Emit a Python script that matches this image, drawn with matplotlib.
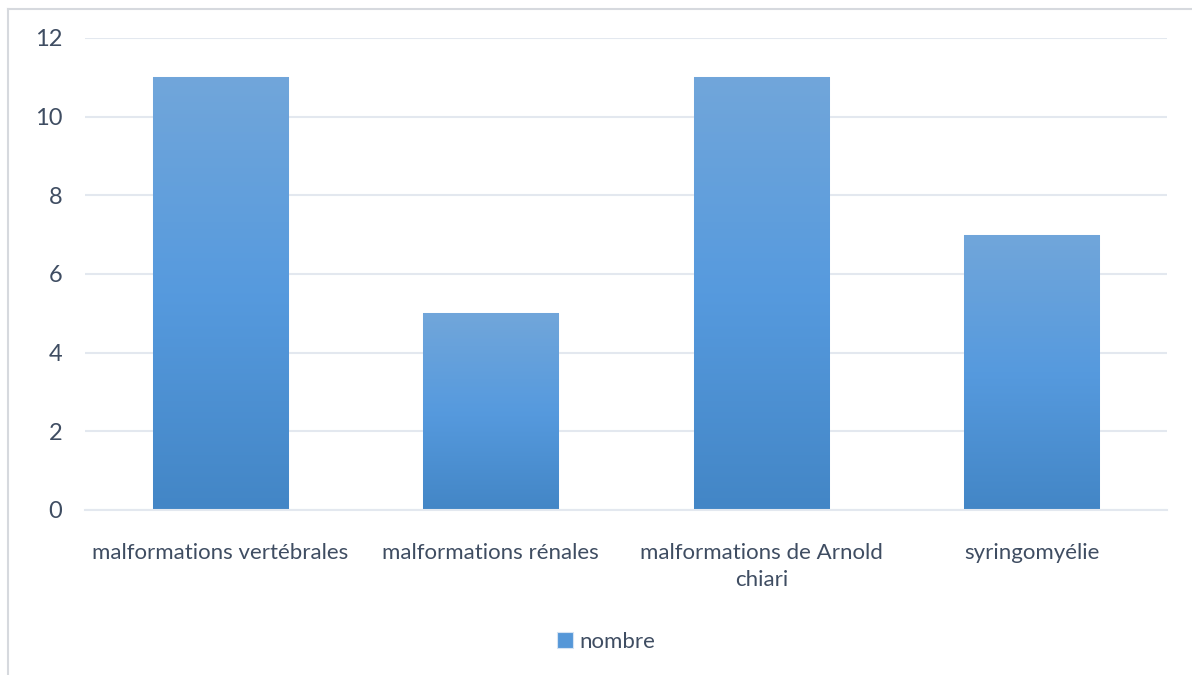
import numpy as np
import matplotlib.pyplot as plt
from matplotlib.colors import LinearSegmentedColormap
from matplotlib.lines import Line2D

categories = ["malformations vertébrales", "malformations rénales",
              "malformations de Arnold\nchiari", "syringomyélie"]
nombre = [11, 5, 11, 7]
yticks = [0, 2, 4, 6, 8, 10, 12]

plt.rcParams['font.family'] = ['Lato', 'DejaVu Sans']
txt = '#3f4d62'

fig = plt.figure(figsize=(11.92, 6.75), dpi=100)
ax = fig.add_axes([85/1192, 1 - 510/675, (1167-85)/1192, (510-38)/675])

x = np.arange(len(categories))
bars = ax.bar(x, nombre, width=0.5, color='#5b9bd5', edgecolor='#d5e3f3', linewidth=0.8, zorder=2)

# vertical gradient in each bar
cmap = LinearSegmentedColormap.from_list('g', ['#4386c6', '#569ade', '#71a6da'])
grad = np.linspace(0, 1, 256).reshape(-1, 1)
for b in bars:
    im = ax.imshow(grad, cmap=cmap, aspect='auto', origin='lower',
                   extent=[b.get_x(), b.get_x() + b.get_width(), 0, b.get_height()], zorder=2.5)
    im.set_clip_path(b)

ax.set_xlim(-0.5, len(categories) - 0.5)
ax.set_ylim(0, 12)
ax.set_yticks(yticks)
ax.set_xticks(x)
ax.set_xticklabels(categories, linespacing=1.4)
ax.grid(axis='y', color='#e3e8ef', linewidth=1.5, zorder=0)
for s in ax.spines.values():
    s.set_visible(False)
ax.spines['bottom'].set_visible(True)
ax.spines['bottom'].set_color('#e3e8ef')
ax.spines['bottom'].set_linewidth(1.5)
ax.tick_params(axis='x', length=0, labelsize=16, colors=txt, pad=24)
ax.tick_params(axis='y', length=0, labelsize=17, colors=txt, pad=16.5)

leg = ax.legend([bars[0]], ['nombre'], loc='center', bbox_to_anchor=(0.482, (510-642)/472),
                frameon=False, fontsize=16, handlelength=0.7, handleheight=0.7,
                handletextpad=0.3, labelcolor=txt)
leg.legend_handles[0].set_facecolor('#5597d8')

# outer chart border (top and left visible)
fig.add_artist(Line2D([8/1192, 1], [1 - 9/675, 1 - 9/675], color='#d6d9de', lw=1.5))
fig.add_artist(Line2D([8/1192, 8/1192], [0, 1 - 9/675], color='#d6d9de', lw=1.5))

fig.savefig('out.png', dpi=100)
